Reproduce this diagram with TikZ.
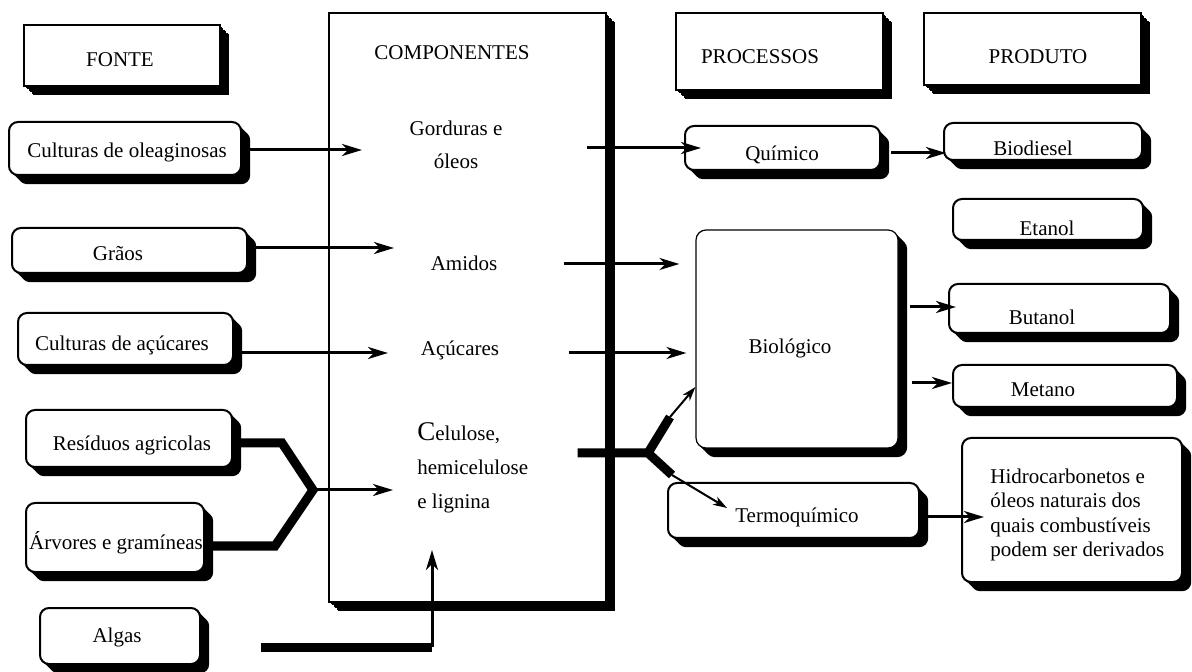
\documentclass[tikz,border=0pt]{standalone}
\usepackage{fontspec}
\setmainfont{Liberation Serif}
\usetikzlibrary{shadows,arrows.meta}
\begin{document}
\begin{tikzpicture}[x=0.5pt,y=-0.5pt,
  font=\fontsize{10.5}{12.25}\selectfont,
  sh/.style={general shadow={fill=black,shadow xshift=#1,shadow yshift=-#1}},
  shadowed/.style={sh=0.8pt,sh=1.6pt,sh=2.4pt,sh=3.2pt,sh=4pt,sh=4.6pt},
  hbox/.style={draw,line width=1pt,fill=white,shadowed,inner sep=0pt},
  rbox/.style={hbox,rounded corners=4.5pt},
  txt/.style={inner sep=0pt},
  arr/.style={line width=1.5pt,-{Stealth[length=10pt,width=6pt,inset=3pt]}},
  tarr/.style={line width=1pt,-{Stealth[length=7pt,width=4.5pt,inset=2pt]}},
  fat/.style={line width=4.5pt},
]
\useasboundingbox (0,0) rectangle (1192,672);

% header boxes
\node[hbox,minimum width=98pt,minimum height=30.5pt] (fonte) at (122,55.5) {};
\node[txt] (fonteT) at (120,60) {FONTE};
\node[hbox,minimum width=138.5pt,minimum height=294.5pt] (comp) at (467.5,307.5) {};
\node[txt] (compT) at (452,53) {COMPONENTES};
\node[hbox,minimum width=103.5pt,minimum height=38.5pt] (proc) at (779.5,51.5) {};
\node[txt] (procT) at (760,57) {PROCESSOS};
\node[hbox,minimum width=108.5pt,minimum height=36pt] (prod) at (1032.5,49) {};
\node[txt] (prodT) at (1038,57) {PRODUTO};

% sources
\node[rbox,minimum width=116pt,minimum height=26.5pt] (oleag) at (125,148.5) {};
\node[txt] (oleagT) at (127,152) {Culturas de oleaginosas};
\node[rbox,minimum width=117.5pt,minimum height=22.5pt] (graos) at (129.5,250.5) {};
\node[txt] (graosT) at (118,254) {Grãos};
\node[rbox,minimum width=107.5pt,minimum height=26pt] (acuc) at (125.5,339) {};
\node[txt] (acucT) at (122,345) {Culturas de açúcares};
\node[rbox,minimum width=103pt,minimum height=28.5pt] (resid) at (129,438.5) {};
\node[txt] (residT) at (132,445) {Resíduos agricolas};
\node[rbox,minimum width=89pt,minimum height=34.5pt] (arvores) at (115,537.5) {};
\node[txt] (arvoresT) at (116,543) {Árvores e gramíneas};
\node[rbox,minimum width=80pt,minimum height=28pt] (algas) at (120,636) {};
\node[txt] (algasT) at (117,637) {Algas};

% components
\node[txt,align=center,font=\fontsize{10.5}{16.5}\selectfont] (gord) at (456,145) {Gorduras e\\óleos};
\node[txt] (amid) at (464,263) {Amidos};
\node[txt] (acucares) at (460,350) {Açúcares};
\node[txt,anchor=west,align=left,font=\fontsize{10.5}{17}\selectfont] (celu) at (417,468)
  {{\fontsize{13.5}{17}\selectfont C}elulose,\\hemicelulose\\e lignina};

% processes
\node[rbox,minimum width=97.5pt,minimum height=22pt] (quimico) at (782.5,148) {};
\node[txt] (quimicoT) at (782,155) {Químico};
\node[hbox,line width=0.6pt,rounded corners=5pt,minimum width=101pt,minimum height=109pt] (biol) at (797,339) {};
\node[txt] (biolT) at (790,348) {Biológico};
\node[rbox,minimum width=125.5pt,minimum height=27.5pt] (termo) at (793.5,510.5) {};
\node[txt] (termoT) at (797,517) {Termoquímico};

% products
\node[rbox,minimum width=99pt,minimum height=18.5pt] (biodiesel) at (1043,141.5) {};
\node[txt] (biodieselT) at (1033,148) {Biodiesel};
\node[rbox,minimum width=95pt,minimum height=20.5pt] (etanol) at (1048,219.5) {};
\node[txt] (etanolT) at (1047,228) {Etanol};
\node[rbox,minimum width=110.5pt,minimum height=24.5pt] (butanol) at (1059.5,308.5) {};
\node[txt] (butanolT) at (1042,317) {Butanol};
\node[rbox,minimum width=112pt,minimum height=21pt] (metano) at (1065,386) {};
\node[txt] (metanoT) at (1043,390) {Metano};
\node[rbox,minimum width=110pt,minimum height=72pt] (hidro) at (1072,510) {};
\node[txt,anchor=west,align=left] (hidroT) at (990,515)
  {Hidrocarbonetos e\\óleos naturais dos\\quais combustíveis\\podem ser derivados};

% coordinates
\coordinate (tipO) at (362,150);
\coordinate (tipG) at (394,248);
\coordinate (tipA) at (388,353);
\coordinate (fk) at (313,490);
\coordinate (tipC) at (393,490);
\coordinate (alg2) at (432,647);
\coordinate (tipAl) at (432,550);
\coordinate (fk2) at (648,453);
\coordinate (b1) at (670,417);
\coordinate (b2) at (672,475);
\coordinate (tipT) at (727,508);

% connectors: sources -> components
\draw[arr] (oleag.east |- tipO) -- (tipO);
\draw[arr] (graos.east |- tipG) -- (tipG);
\draw[arr] (acuc.east |- tipA) -- (tipA);
\draw[fat] (resid.east |- 0,443) -- (282,443) -- (fk) -- (275,546) -- (arvores.east |- 0,546);
\draw[arr] (fk) -- (tipC);
\draw[fat,shorten <=30pt] (algas.east |- alg2) -- (alg2);
\draw[arr] (alg2) -- (tipAl);

% components -> processes
\draw[arr,shorten <=42pt,shorten >=-8.5pt] (gord.east |- quimico.west) -- (quimico.west);
\draw[arr,shorten <=33pt,shorten >=8pt] (amid.east |- 0,264) -- (biol.west |- 0,264);
\draw[arr,shorten <=35pt,shorten >=4.5pt] (acucares.east |- 0,353) -- (biol.west |- 0,353);
\draw[fat,shorten <=24.5pt] (celu.east |- fk2) -- (fk2) -- (b1);
\draw[fat] (fk2) -- (b2);
\draw[tarr] (b1) -- (biol.west |- 0,387);
\draw[tarr] (b2) -- (tipT);

% processes -> products
\draw[arr,shorten <=5pt,shorten >=-1.5pt] (quimico.east |- 0,153) -- (biodiesel.west |- 0,153);
\draw[arr,shorten <=5.5pt,shorten >=-4pt] (biol.east |- 0,307) -- (butanol.west |- 0,307);
\draw[arr,shorten <=6.5pt] (biol.east |- 0,383) -- (metano.west |- 0,383);
\draw[arr,shorten >=-11.5pt] (termo.east |- 0,517) -- (hidro.west |- 0,517);
\end{tikzpicture}
\end{document}
